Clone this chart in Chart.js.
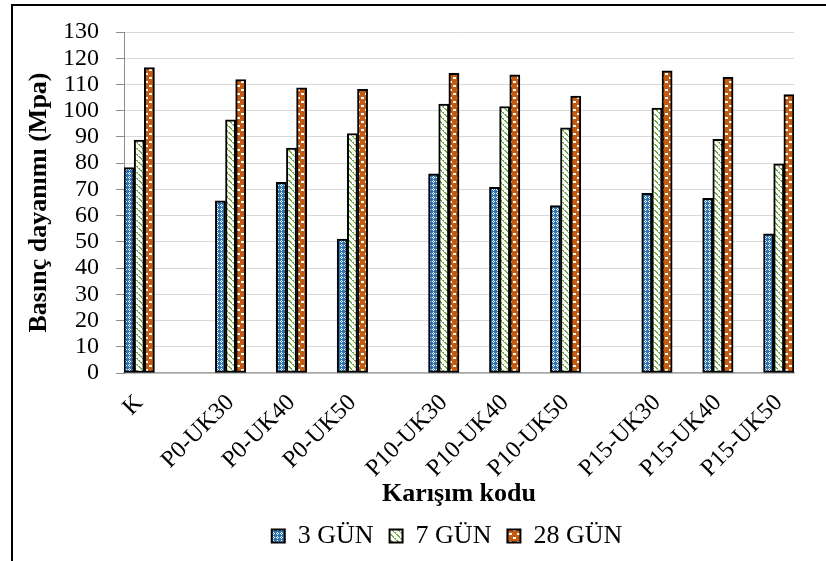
<!DOCTYPE html>
<html lang="tr">
<head>
<meta charset="utf-8">
<title>Basınç dayanımı</title>
<script src="https://cdn.jsdelivr.net/npm/chart.js@4.4.1/dist/chart.umd.min.js"></script>
<style>
  html, body { margin: 0; padding: 0; background: #ffffff; }
  #wrap { width: 826px; height: 561px; position: relative; }
</style>
</head>
<body>
<div id="wrap"><canvas id="c" width="826" height="561"></canvas></div>
<script>
// Mixture codes; empty entries are the spacer rows between groups
const categories = ['K', '', '', 'P0-UK30', '', 'P0-UK40', '', 'P0-UK50', '', '',
  'P10-UK30', '', 'P10-UK40', '', 'P10-UK50', '', '', 'P15-UK30', '', 'P15-UK40', '', 'P15-UK50'];

// Compressive strength (MPa) per curing age
const gun3 = [78.3, null, null, 65.6, null, 72.7, null, 51.1, null, null,
  75.9, null, 70.8, null, 63.8, null, null, 68.5, null, 66.6, null, 53.1];
const gun7 = [88.8, null, null, 96.5, null, 85.7, null, 91.3, null, null,
  102.5, null, 101.6, null, 93.5, null, null, 101.0, null, 89.1, null, 79.7];
const gun28 = [116.4, null, null, 111.9, null, 108.7, null, 108.1, null, null,
  114.2, null, 113.7, null, 105.6, null, null, 115.2, null, 112.7, null, 106.1];

const seriesNames = ['3 GÜN', '7 GÜN', '28 GÜN'];

// Value axis ticks
const yMin = 0;
const yMax = 130;
const yStep = 10;

const canvas = document.getElementById('c');
const ctx = canvas.getContext('2d');

// Small pixel tiles used as hatch fills
function makePattern(w, h, bg, fg, pixels, rects) {
  const t = document.createElement('canvas');
  t.width = w; t.height = h;
  const g = t.getContext('2d');
  g.fillStyle = bg; g.fillRect(0, 0, w, h);
  g.fillStyle = fg;
  (pixels || []).forEach(p => g.fillRect(p[0], p[1], 1, 1));
  (rects || []).forEach(r => g.fillRect(r[0], r[1], r[2], r[3]));
  return ctx.createPattern(t, 'repeat');
}

const fill3 = makePattern(4, 4, '#2E75B6', '#ffffff',
  [[1, 0], [0, 1], [2, 1], [1, 2]]);
const fill7 = makePattern(6, 6, '#ffffff', '#70AD47',
  [[0, 0], [1, 0], [1, 1], [2, 1], [2, 2], [3, 2], [3, 3], [4, 4], [5, 4], [5, 5]]);
const fill28 = makePattern(8, 8, '#C55A11', '#ffffff', [],
  [[1, 1, 3, 2], [5, 5, 3, 2]]);

const serif = "'Liberation Serif', 'Times New Roman', serif";

// White page with the outer frame lines; legend centred under the whole frame
const framePlugin = {
  id: 'frame',
  afterLayout(chart) {
    const lg = chart.legend;
    if (lg) { lg.left = 12; lg.right = 882; }
  },
  beforeDraw(chart) {
    const g = chart.ctx;
    g.save();
    g.fillStyle = '#ffffff';
    g.fillRect(0, 0, chart.width, chart.height);
    g.strokeStyle = '#000000';
    g.lineWidth = 2;
    g.beginPath();
    g.moveTo(12, chart.height);
    g.lineTo(12, 5);
    g.lineTo(chart.width, 5);
    g.stroke();
    g.restore();
  }
};

function barSet(label, data, fill) {
  return {
    label: label,
    data: data,
    backgroundColor: fill,
    borderColor: '#000000',
    borderWidth: 2,
    borderSkipped: false,
    barPercentage: 1,
    categoryPercentage: 1
  };
}

new Chart(ctx, {
  type: 'bar',
  data: {
    labels: categories,
    datasets: [
      barSet(seriesNames[0], gun3, fill3),
      barSet(seriesNames[1], gun7, fill7),
      barSet(seriesNames[2], gun28, fill28)
    ]
  },
  plugins: [framePlugin],
  options: {
    responsive: false,
    animation: false,
    devicePixelRatio: 1,
    layout: { padding: { left: 0, right: 32, top: 32, bottom: 2 } },
    plugins: {
      tooltip: { enabled: false },
      legend: {
        position: 'bottom',
        labels: {
          font: { family: serif, size: 26 },
          color: '#000000',
          boxWidth: 13,
          boxHeight: 13,
          padding: 16
        }
      }
    },
    scales: {
      x: {
        grid: { display: false },
        border: { display: true, color: '#a6a6a6', width: 1.5 },
        ticks: {
          autoSkip: false,
          minRotation: 45,
          maxRotation: 45,
          padding: 8,
          color: '#000000',
          font: { family: serif, size: 24 }
        },
        title: {
          display: true,
          text: 'Karışım kodu',
          color: '#000000',
          font: { family: serif, size: 26, weight: 'bold' },
          padding: { top: 0, bottom: -3 }
        },
        afterFit(scale) { scale.height = 134; }
      },
      y: {
        min: yMin,
        max: yMax,
        grid: { color: '#d9d9d9', lineWidth: 1, tickLength: 8, tickColor: '#8c8c8c' },
        border: { display: true, color: '#8c8c8c', width: 1 },
        ticks: {
          stepSize: yStep,
          autoSkip: false,
          padding: 17,
          color: '#000000',
          font: { family: serif, size: 24, lineHeight: 1 }
        },
        title: {
          display: true,
          text: 'Basınç dayanımı (Mpa)',
          color: '#000000',
          font: { family: serif, size: 26, weight: 'bold' },
          padding: { top: 24, bottom: 0 }
        },
        afterFit(scale) { scale.width = 124; }
      }
    }
  }
});
</script>
</body>
</html>
